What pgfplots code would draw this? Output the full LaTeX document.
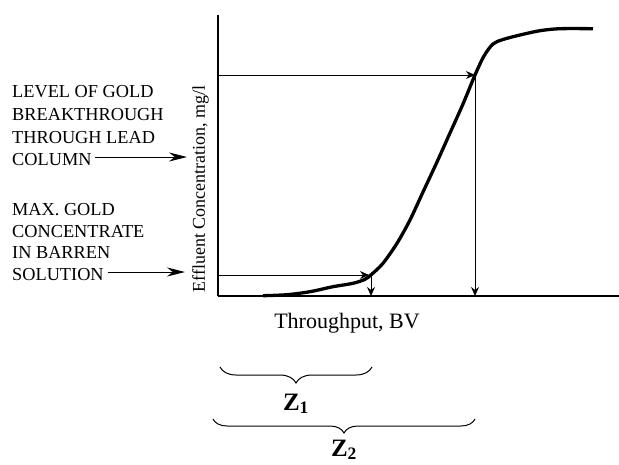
\documentclass[border=0pt]{standalone}
\usepackage{fontspec}
\setmainfont{Liberation Serif}
\usepackage{pgfplots}
\pgfplotsset{compat=1.18}
\usetikzlibrary{arrows.meta,decorations.pathreplacing}

\newcommand{\lbl}{\fontsize{18.3}{22.7}\selectfont}

\begin{document}
\begin{tikzpicture}
\begin{axis}[
	scale only axis,
	width=401pt, height=281pt,
	xmin=218, xmax=619,
	ymin=0, ymax=281,
	axis lines=left,
	axis line style={-, line width=2pt},
	ticks=none,
	clip=false,
]
% breakthrough curve (pixel units)
\addplot[black, line width=3.3pt, smooth, tension=0.5] coordinates {
	(263,0.3) (287,1.3) (310,4.3) (333,9.3) (353,12.7) (365,16.7)
	(372,22) (383,32.7) (397,52.7) (410,76) (423,104) (437,134)
	(450,163) (463,192) (475,221) (484,240) (493,252) (503,256.5)
	(520,261) (540,265.3) (560,267.3) (593,267.3)
};
% level arrows
\addplot[black, line width=0.9pt, -{Stealth[length=9pt,width=8pt]}] coordinates {(218,21) (369,21)};
\addplot[black, line width=0.9pt, -{Stealth[length=9pt,width=8pt]}] coordinates {(371,21) (371,0)};
\addplot[black, line width=0.9pt, -{Stealth[length=9pt,width=8pt]}] coordinates {(218,221) (475,221)};
\addplot[black, line width=0.9pt, -{Stealth[length=9pt,width=8pt]}] coordinates {(475,221) (475,0)};

% left annotations
\node[anchor=base west, inner sep=0pt, font=\lbl] at (axis cs:12,199) {LEVEL OF GOLD};
\node[anchor=base west, inner sep=0pt, font=\lbl] at (axis cs:12,176) {BREAKTHROUGH};
\node[anchor=base west, inner sep=0pt, font=\lbl] at (axis cs:12,153) {THROUGH LEAD};
\node[anchor=base west, inner sep=0pt, font=\lbl] at (axis cs:12,131) {COLUMN};
\draw[line width=0.9pt, -{Stealth[length=18pt,width=9pt]}] (axis cs:95,139) -- (axis cs:187,139);

\node[anchor=base west, inner sep=0pt, font=\lbl] at (axis cs:12,81) {MAX. GOLD};
\node[anchor=base west, inner sep=0pt, font=\lbl] at (axis cs:12,59) {CONCENTRATE};
\node[anchor=base west, inner sep=0pt, font=\lbl] at (axis cs:12,38) {IN BARREN};
\node[anchor=base west, inner sep=0pt, font=\lbl] at (axis cs:12,16) {SOLUTION};
\draw[line width=0.9pt, -{Stealth[length=18pt,width=9pt]}] (axis cs:108,24) -- (axis cs:185,24);

% axis labels
\node[rotate=90, anchor=base, inner sep=0pt, font=\fontsize{18}{22}\selectfont] at (axis cs:205,107) {Effluent Concentration, mg/l};
\node[anchor=base, inner sep=0pt, font=\fontsize{22}{26}\selectfont] at (axis cs:347,-32) {Throughput, BV};

% braces
\draw[line width=1pt, decorate, decoration={brace, mirror, amplitude=16pt}] (axis cs:220,-71) -- (axis cs:372,-71);
\node[anchor=base, inner sep=0pt, font=\fontsize{25}{30}\selectfont\bfseries] at (axis cs:296,-114) {Z\textsubscript{1}};
\draw[line width=1pt, decorate, decoration={brace, mirror, amplitude=14pt}] (axis cs:213,-123) -- (axis cs:475,-123);
\node[anchor=base, inner sep=0pt, font=\fontsize{25}{30}\selectfont\bfseries] at (axis cs:344,-160) {Z\textsubscript{2}};

\coordinate (bl) at (axis cs:0,-168);
\coordinate (tr) at (axis cs:619,296);
\end{axis}
\pgfresetboundingbox
\path (bl) rectangle (tr);
\end{tikzpicture}
\end{document}
